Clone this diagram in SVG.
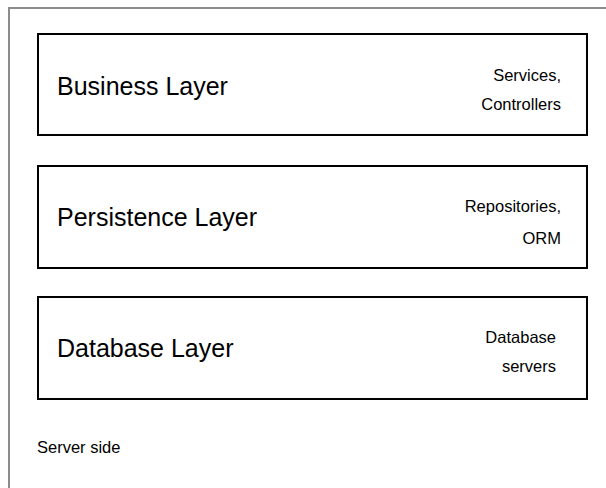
<svg xmlns="http://www.w3.org/2000/svg" width="606" height="488" viewBox="0 0 606 488">
  <style>
    .frame { fill: none; stroke: #8c8c8c; stroke-width: 2; }
    .layer { fill: #ffffff; stroke: #000000; stroke-width: 2; }
    .title { font-family: "Liberation Sans", Arial, sans-serif; font-size: 25px; fill: #000000; }
    .note { font-family: "Liberation Sans", Arial, sans-serif; font-size: 16.5px; fill: #000000; text-anchor: end; }
    .caption { font-family: "Liberation Sans", Arial, sans-serif; font-size: 16.5px; fill: #000000; }
  </style>
  <rect width="606" height="488" fill="#ffffff"/>
  <!-- server-side container: only top and left edges visible -->
  <path class="frame" d="M9,488 V8 H606"/>

  <g id="business-layer">
    <rect class="layer" x="38" y="34" width="549" height="101"/>
    <text class="title" x="57" y="95">Business Layer</text>
    <text class="note" x="561" y="81">Services,</text>
    <text class="note" x="561" y="110">Controllers</text>
  </g>

  <g id="persistence-layer">
    <rect class="layer" x="38" y="166" width="549" height="102"/>
    <text class="title" x="57" y="226">Persistence Layer</text>
    <text class="note" x="561" y="212">Repositories,</text>
    <text class="note" x="561" y="244">ORM</text>
  </g>

  <g id="database-layer">
    <rect class="layer" x="38" y="297" width="549" height="102"/>
    <text class="title" x="57" y="357">Database Layer</text>
    <text class="note" x="556" y="343">Database</text>
    <text class="note" x="556" y="372">servers</text>
  </g>

  <g id="connectors"></g>

  <text class="caption" x="37" y="453">Server side</text>
</svg>
